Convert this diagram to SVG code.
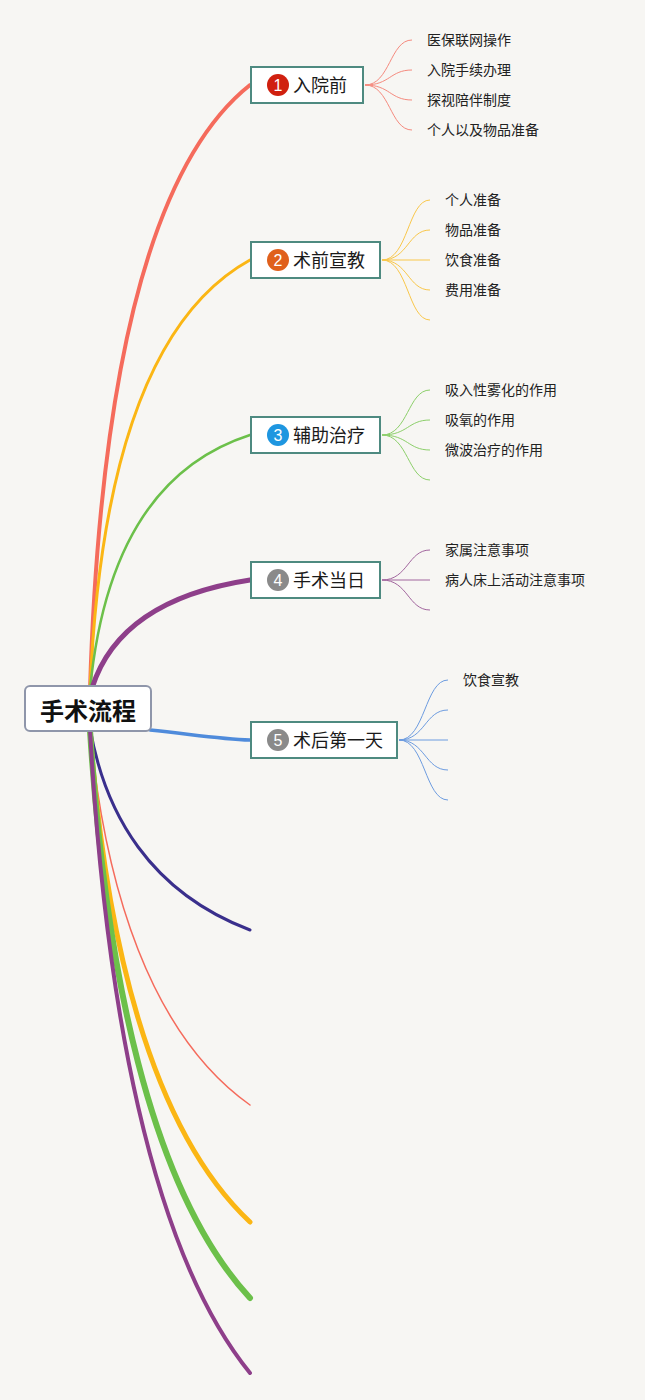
<svg xmlns="http://www.w3.org/2000/svg" width="645" height="1400" viewBox="0 0 645 1400">
<style>
.bg{fill:#f7f6f3}
.node{fill:#ffffff;stroke:#4e8a80;stroke-width:2}
.root{fill:#ffffff;stroke:#8f96aa;stroke-width:2}
.lbl{font-family:"Noto Sans CJK SC","Noto Sans",sans-serif;font-size:18px;fill:#1a1a1a}
.rootlbl{font-family:"Noto Sans CJK SC","Noto Sans",sans-serif;font-size:24px;font-weight:bold;fill:#111}
.child{font-family:"Noto Sans CJK SC","Noto Sans",sans-serif;font-size:14px;fill:#222}
.num{font-family:"Liberation Sans","Noto Sans",sans-serif;font-size:16px;fill:#fff;text-anchor:middle}
.c{fill:none;stroke-linecap:round}
.sub{fill:none;stroke-width:1}
</style>
<rect class="bg" x="0" y="0" width="645" height="1400"/>
<g id="connectors">
  <path class="c" d="M90 690 Q105 200 250 85" stroke="#f56b5c" stroke-width="4"/>
  <path class="c" d="M90 690 Q105 340 250 260" stroke="#fbb614" stroke-width="3"/>
  <path class="c" d="M90 690 Q110 480 250 435" stroke="#6cc04a" stroke-width="2.5"/>
  <path class="c" d="M92 688 Q120 600 250 580" stroke="#8e3f8a" stroke-width="5"/>
  <path class="c" d="M150 730 C190 734 220 739 250 740" stroke="#4f8bdb" stroke-width="3.5"/>
  <path class="c" d="M90 728 C105 814 150 892 250 930" stroke="#3a2f8c" stroke-width="3"/>
  <path class="c" d="M90 730 C105 887 150 1034 250 1105" stroke="#f56b5c" stroke-width="1.5"/>
  <path class="c" d="M90 730 C105 937 150 1128 250 1222" stroke="#fbb614" stroke-width="5"/>
  <path class="c" d="M90 730 C105 968 150 1190 250 1298" stroke="#6cc04a" stroke-width="6"/>
  <path class="c" d="M90 730 C105 1000 150 1250 250 1373" stroke="#8e3f8a" stroke-width="4"/>
  <g stroke="#f58a7e" class="sub">
    <path d="M365 85 C390 85 390 40 412 40"/>
    <path d="M365 85 C390 85 390 70 412 70"/>
    <path d="M365 85 C390 85 390 100 412 100"/>
    <path d="M365 85 C390 85 390 130 412 130"/>
  </g>
  <g stroke="#f9c74a" class="sub">
    <path d="M382 260 C408 260 408 200 430 200"/>
    <path d="M382 260 C408 260 408 230 430 230"/>
    <path d="M382 260 L430 260"/>
    <path d="M382 260 C408 260 408 290 430 290"/>
    <path d="M382 260 C408 260 408 320 430 320"/>
  </g>
  <g stroke="#8ccf6a" class="sub">
    <path d="M382 435 C408 435 408 390 430 390"/>
    <path d="M382 435 C408 435 408 420 430 420"/>
    <path d="M382 435 C408 435 408 450 430 450"/>
    <path d="M382 435 C408 435 408 480 430 480"/>
  </g>
  <g stroke="#a2669e" class="sub">
    <path d="M382 580 C408 580 408 550 430 550"/>
    <path d="M382 580 L430 580"/>
    <path d="M382 580 C408 580 408 610 430 610"/>
  </g>
  <g stroke="#6d9ce0" class="sub">
    <path d="M399 740 C425 740 425 680 448 680"/>
    <path d="M399 740 C425 740 425 710 448 710"/>
    <path d="M399 740 L448 740"/>
    <path d="M399 740 C425 740 425 770 448 770"/>
    <path d="M399 740 C425 740 425 800 448 800"/>
  </g>
</g>
<g id="root">
  <rect class="root" x="25" y="686" width="126" height="45" rx="5"/>
  <text class="rootlbl" x="88" y="720" text-anchor="middle">手术流程</text>
</g>
<g id="n1">
  <rect class="node" x="251" y="67" width="112" height="36"/>
  <circle cx="278" cy="85" r="11" fill="#d0200f"/>
  <text class="num" x="278" y="91">1</text>
  <text class="lbl" x="293" y="92">入院前</text>
</g>
<g id="n2">
  <rect class="node" x="251" y="242" width="129" height="36"/>
  <circle cx="278" cy="260" r="11" fill="#e0601c"/>
  <text class="num" x="278" y="266">2</text>
  <text class="lbl" x="293" y="267">术前宣教</text>
</g>
<g id="n3">
  <rect class="node" x="251" y="417" width="129" height="36"/>
  <circle cx="278" cy="435" r="11" fill="#1e96e0"/>
  <text class="num" x="278" y="441">3</text>
  <text class="lbl" x="293" y="442">辅助治疗</text>
</g>
<g id="n4">
  <rect class="node" x="251" y="562" width="129" height="36"/>
  <circle cx="278" cy="580" r="11" fill="#8a8a8a"/>
  <text class="num" x="278" y="586">4</text>
  <text class="lbl" x="293" y="587">手术当日</text>
</g>
<g id="n5">
  <rect class="node" x="251" y="722" width="146" height="36"/>
  <circle cx="278" cy="740" r="11" fill="#8a8a8a"/>
  <text class="num" x="278" y="746">5</text>
  <text class="lbl" x="293" y="747">术后第一天</text>
</g>
<g id="c1">
  <text class="child" x="427" y="45">医保联网操作</text>
  <text class="child" x="427" y="75">入院手续办理</text>
  <text class="child" x="427" y="105">探视陪伴制度</text>
  <text class="child" x="427" y="135">个人以及物品准备</text>
</g>
<g id="c2">
  <text class="child" x="445" y="205">个人准备</text>
  <text class="child" x="445" y="235">物品准备</text>
  <text class="child" x="445" y="265">饮食准备</text>
  <text class="child" x="445" y="295">费用准备</text>
</g>
<g id="c3">
  <text class="child" x="445" y="395">吸入性雾化的作用</text>
  <text class="child" x="445" y="425">吸氧的作用</text>
  <text class="child" x="445" y="455">微波治疗的作用</text>
</g>
<g id="c4">
  <text class="child" x="445" y="555">家属注意事项</text>
  <text class="child" x="445" y="585">病人床上活动注意事项</text>
</g>
<g id="c5">
  <text class="child" x="463" y="685">饮食宣教</text>
</g>
</svg>
